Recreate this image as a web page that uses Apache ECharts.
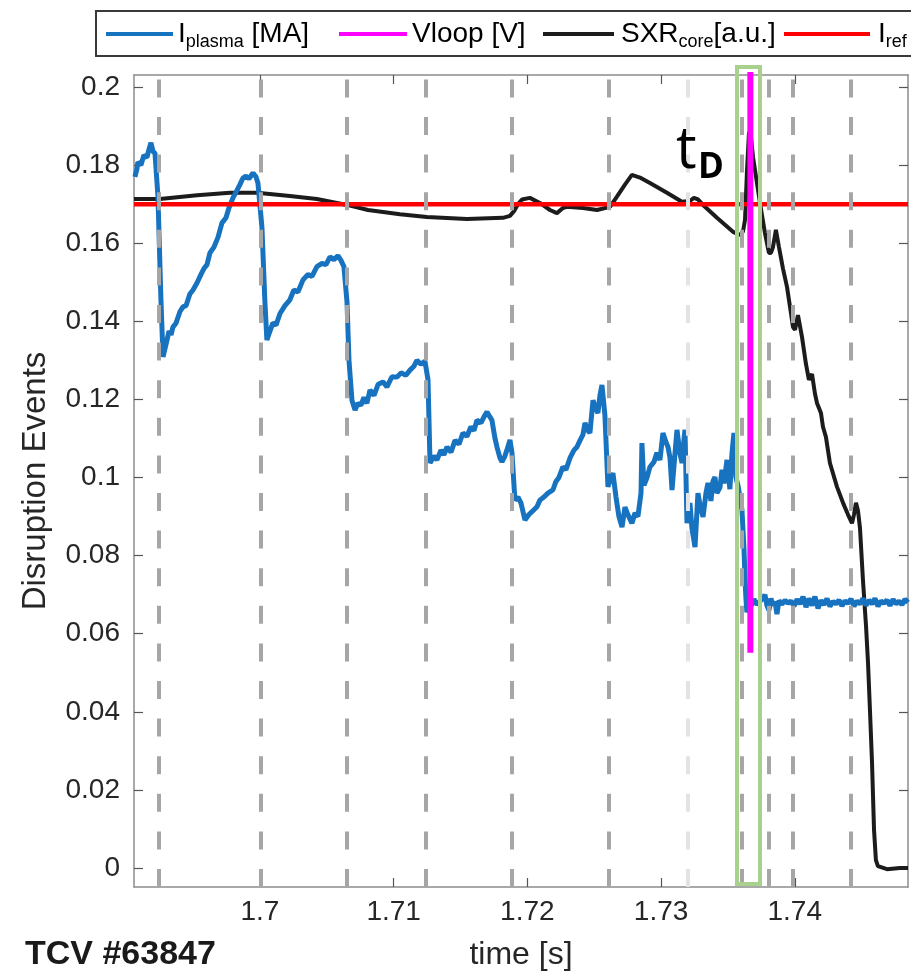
<!DOCTYPE html>
<html>
<head>
<meta charset="utf-8">
<script src="https://cdn.jsdelivr.net/npm/echarts@6/dist/echarts.min.js"></script>
<style>
html, body { margin: 0; padding: 0; background: #fff; }
#container { width: 911px; height: 978px; }
</style>
</head>
<body>
<div id="container"></div>
<script>
// axis ranges and ticks
var xMin = 1.69058, xMax = 1.74847;
var yMin = -0.00487, yMax = 0.20307;
var timeTicks = [1.70, 1.71, 1.72, 1.73, 1.74];
var valueTicks = [0, 0.02, 0.04, 0.06, 0.08, 0.1, 0.12, 0.14, 0.16, 0.18, 0.2];

// I_plasma [MA]
var ipTime = [
  1.69065, 1.69080, 1.69087, 1.69110, 1.69132, 1.69155, 1.69170, 1.69185, 1.69200, 1.69215,
  1.69237, 1.69260, 1.69275, 1.69297, 1.69320, 1.69335, 1.69349, 1.69372, 1.69402, 1.69424,
  1.69447, 1.69476, 1.69499, 1.69529, 1.69559, 1.69581, 1.69604, 1.69626, 1.69656, 1.69686,
  1.69716, 1.69746, 1.69768, 1.69798, 1.69828, 1.69850, 1.69873, 1.69895, 1.69918, 1.69948,
  1.69970, 1.69985, 1.70015, 1.70037, 1.70052, 1.70075, 1.70097, 1.70120, 1.70150, 1.70187,
  1.70224, 1.70254, 1.70284, 1.70322, 1.70359, 1.70389, 1.70426, 1.70464, 1.70494, 1.70524,
  1.70553, 1.70583, 1.70606, 1.70628, 1.70651, 1.70666, 1.70688, 1.70711, 1.70733, 1.70755,
  1.70778, 1.70800, 1.70823, 1.70853, 1.70883, 1.70920, 1.70950, 1.70987, 1.71025, 1.71055,
  1.71092, 1.71122, 1.71152, 1.71174, 1.71204, 1.71234, 1.71257, 1.71272, 1.71301, 1.71324,
  1.71354, 1.71376, 1.71399, 1.71429, 1.71459, 1.71489, 1.71518, 1.71548, 1.71578, 1.71601,
  1.71623, 1.71653, 1.71683, 1.71698, 1.71720, 1.71735, 1.71758, 1.71773, 1.71795, 1.71810,
  1.71832, 1.71847, 1.71870, 1.71885, 1.71907, 1.71930, 1.71952, 1.71982, 1.72012, 1.72042,
  1.72072, 1.72094, 1.72124, 1.72154, 1.72191, 1.72214, 1.72236, 1.72266, 1.72289, 1.72319,
  1.72349, 1.72371, 1.72394, 1.72416, 1.72431, 1.72453, 1.72468, 1.72491, 1.72513, 1.72528,
  1.72543, 1.72558, 1.72580, 1.72603, 1.72625, 1.72640, 1.72663, 1.72685, 1.72708, 1.72730,
  1.72752, 1.72782, 1.72805, 1.72827, 1.72850, 1.72857, 1.72872, 1.72895, 1.72917, 1.72947,
  1.72969, 1.72992, 1.73014, 1.73037, 1.73052, 1.73067, 1.73082, 1.73104, 1.73119, 1.73142,
  1.73157, 1.73172, 1.73179, 1.73194, 1.73216, 1.73231, 1.73254, 1.73276, 1.73291, 1.73314,
  1.73336, 1.73351, 1.73373, 1.73388, 1.73403, 1.73418, 1.73441, 1.73456, 1.73471, 1.73493,
  1.73515, 1.73530, 1.73545, 1.73560, 1.73575, 1.73590, 1.73605, 1.73620, 1.73628, 1.73635,
  1.73642, 1.73657, 1.73672, 1.73695, 1.73717, 1.73740, 1.73762, 1.73777, 1.73792, 1.73807,
  1.73822, 1.73837, 1.73852, 1.73867, 1.73882, 1.73904, 1.73927, 1.73949, 1.73972, 1.73994,
  1.74017, 1.74039, 1.74062, 1.74084, 1.74106, 1.74129, 1.74151, 1.74174, 1.74196, 1.74219,
  1.74241, 1.74263, 1.74286, 1.74308, 1.74331, 1.74353, 1.74376, 1.74398, 1.74421, 1.74443,
  1.74465, 1.74488, 1.74510, 1.74533, 1.74555, 1.74578, 1.74600, 1.74623, 1.74645, 1.74667,
  1.74690, 1.74712, 1.74735, 1.74757, 1.74780, 1.74802, 1.74825, 1.74847
];
var ipValue = [
  0.1770, 0.1790, 0.1808, 0.1800, 0.1825, 0.1820, 0.1840, 0.1857, 0.1835, 0.1830,
  0.1720, 0.1450, 0.1309, 0.1340, 0.1375, 0.1365, 0.1385, 0.1395, 0.1425, 0.1437,
  0.1440, 0.1470, 0.1480, 0.1498, 0.1520, 0.1535, 0.1545, 0.1575, 0.1590, 0.1615,
  0.1652, 0.1665, 0.1690, 0.1716, 0.1735, 0.1750, 0.1767, 0.1772, 0.1765, 0.1780,
  0.1770, 0.1754, 0.1640, 0.1450, 0.1352, 0.1375, 0.1396, 0.1390, 0.1420, 0.1440,
  0.1455, 0.1480, 0.1475, 0.1506, 0.1520, 0.1515, 0.1540, 0.1548, 0.1545, 0.1565,
  0.1558, 0.1568, 0.1556, 0.1540, 0.1450, 0.1300, 0.1198, 0.1173, 0.1190, 0.1185,
  0.1205, 0.1190, 0.1224, 0.1210, 0.1238, 0.1245, 0.1232, 0.1258, 0.1257, 0.1268,
  0.1262, 0.1275, 0.1285, 0.1300, 0.1290, 0.1298, 0.1250, 0.1037, 0.1055, 0.1045,
  0.1070, 0.1058, 0.1078, 0.1065, 0.1095, 0.1085, 0.1114, 0.1105, 0.1130, 0.1120,
  0.1147, 0.1140, 0.1160, 0.1168, 0.1155, 0.1147, 0.1100, 0.1078, 0.1050, 0.1040,
  0.1055, 0.1070, 0.1096, 0.1063, 0.0942, 0.0950, 0.0935, 0.0891, 0.0905, 0.0915,
  0.0925, 0.0942, 0.0950, 0.0960, 0.0968, 0.0990, 0.1000, 0.1027, 0.1020, 0.1050,
  0.1070, 0.1078, 0.1095, 0.1110, 0.1140, 0.1120, 0.1114, 0.1198, 0.1175, 0.1165,
  0.1210, 0.1237, 0.1160, 0.0976, 0.1000, 0.1011, 0.0950, 0.0900, 0.0873, 0.0924,
  0.0905, 0.0883, 0.0909, 0.0900, 0.0960, 0.1088, 0.0980, 0.1000, 0.1027, 0.1040,
  0.1063, 0.1045, 0.1114, 0.1090, 0.1078, 0.1050, 0.0968, 0.1060, 0.1122, 0.1060,
  0.1037, 0.1100, 0.1122, 0.0883, 0.0935, 0.0870, 0.0822, 0.0960, 0.0930, 0.0899,
  0.0960, 0.0986, 0.0940, 0.0990, 0.1001, 0.0960, 0.0975, 0.1020, 0.0985, 0.1045,
  0.0970, 0.1060, 0.1114, 0.1000, 0.0980, 0.0950, 0.0917, 0.0820, 0.0740, 0.0690,
  0.0655, 0.0680, 0.0670, 0.0688, 0.0675, 0.0683, 0.0690, 0.0700, 0.0672, 0.0660,
  0.0690, 0.0672, 0.0682, 0.0650, 0.0685, 0.0675, 0.0686, 0.0678, 0.0684, 0.0670,
  0.0688, 0.0676, 0.0695, 0.0668, 0.0690, 0.0672, 0.0695, 0.0665, 0.0685, 0.0674,
  0.0690, 0.0670, 0.0683, 0.0676, 0.0686, 0.0671, 0.0684, 0.0678, 0.0689, 0.0670,
  0.0684, 0.0676, 0.0690, 0.0672, 0.0686, 0.0676, 0.0690, 0.0670, 0.0684, 0.0678,
  0.0686, 0.0672, 0.0688, 0.0676, 0.0684, 0.0674, 0.0688, 0.0680
];

// SXR core [a.u.]
var sxrTime = [
  1.69058, 1.69252, 1.69529, 1.69776, 1.69978, 1.70224, 1.70426, 1.70651, 1.70808, 1.71047,
  1.71249, 1.71548, 1.71817, 1.71870, 1.71900, 1.71930, 1.71960, 1.72019, 1.72094, 1.72169,
  1.72221, 1.72266, 1.72296, 1.72416, 1.72521, 1.72618, 1.72670, 1.72730, 1.72782, 1.72842,
  1.72917, 1.73044, 1.73156, 1.73216, 1.73246, 1.73276, 1.73314, 1.73418, 1.73538, 1.73590,
  1.73613, 1.73628, 1.73643, 1.73658, 1.73673, 1.73688, 1.73717, 1.73740, 1.73777, 1.73807,
  1.73822, 1.73837, 1.73859, 1.73882, 1.73912, 1.73942, 1.73972, 1.73987, 1.74002, 1.74024,
  1.74054, 1.74084, 1.74106, 1.74129, 1.74151, 1.74166, 1.74196, 1.74211, 1.74233, 1.74263,
  1.74316, 1.74361, 1.74398, 1.74428, 1.74443, 1.74458, 1.74473, 1.74488, 1.74510, 1.74533,
  1.74548, 1.74563, 1.74578, 1.74593, 1.74607, 1.74622, 1.74690, 1.74787, 1.74847
];
var sxrValue = [
  0.1713, 0.1713, 0.1723, 0.1729, 0.1729, 0.1721, 0.1713, 0.1698, 0.1685, 0.1674,
  0.1667, 0.1662, 0.1665, 0.1670, 0.1682, 0.1700, 0.1712, 0.1716, 0.1703, 0.1685,
  0.1677, 0.1690, 0.1693, 0.1690, 0.1685, 0.1693, 0.1719, 0.1750, 0.1775, 0.1768,
  0.1754, 0.1729, 0.1706, 0.1708, 0.1716, 0.1712, 0.1698, 0.1665, 0.1629, 0.1621,
  0.1630, 0.1660, 0.1787, 0.1885, 0.1870, 0.1820, 0.1755, 0.1703, 0.1626, 0.1575,
  0.1575, 0.1590, 0.1634, 0.1590, 0.1535, 0.1488, 0.1420, 0.1385, 0.1378, 0.1416,
  0.1360, 0.1290, 0.1250, 0.1265, 0.1215, 0.1191, 0.1165, 0.1130, 0.1104, 0.1037,
  0.0976, 0.0935, 0.0905, 0.0883, 0.0905, 0.0935, 0.0915, 0.0870, 0.0738, 0.0620,
  0.0525, 0.0400, 0.0269, 0.0097, 0.0020, 0.0005, -0.0003, 0.0000, 0.0000
];

// Vloop [V] (only the visible spike) and I_ref
var vloopTime = [1.73668, 1.73668];
var vloopValue = [0.0551, 0.2500];
var irefTime = [xMin, xMax];
var irefValue = [0.170, 0.170];

// event markers
var eventTimes = [1.69245, 1.70007, 1.70651, 1.71242, 1.71885, 1.72610, 1.73605, 1.73807, 1.73987, 1.74420];
var disruptionTime = 1.73201;
var windowStart = 1.73568, windowEnd = 1.73740;

function pairs(ts, vs) {
  return ts.map(function (t, i) { return [t, vs[i]]; });
}

var dom = document.getElementById('container');
var myChart = echarts.init(dom);

var axisFont = 'Liberation Sans, Arial, sans-serif';
var dashStyle = [18, 19.6];

var option = {
  animation: false,
  backgroundColor: '#fff',
  grid: { left: 134, right: 3, top: 75, bottom: 91, outerBoundsMode: 'none' },
  xAxis: [{
    type: 'value', min: xMin, max: xMax, position: 'bottom',
    name: 'time [s]', nameLocation: 'middle', nameGap: 52,
    nameTextStyle: { fontFamily: axisFont, fontSize: 32, color: '#262626' },
    axisLine: { onZero: false, lineStyle: { color: '#8c8c8c', width: 1.5 } },
    axisTick: { inside: true, length: 9, customValues: timeTicks, lineStyle: { color: '#555', width: 1.2 } },
    axisLabel: {
      customValues: timeTicks, margin: 11, fontFamily: axisFont, fontSize: 28, color: '#262626',
      formatter: function (v) { return String(parseFloat(v.toFixed(2))); }
    },
    splitLine: { show: false }
  }, {
    type: 'value', min: xMin, max: xMax, position: 'top',
    axisLine: { onZero: false, lineStyle: { color: '#8c8c8c', width: 1.5 } },
    axisTick: { inside: true, length: 9, customValues: timeTicks, lineStyle: { color: '#555', width: 1.2 } },
    axisLabel: { show: false },
    splitLine: { show: false }
  }],
  yAxis: [{
    type: 'value', min: yMin, max: yMax, position: 'left',
    name: 'Disruption Events', nameLocation: 'middle', nameGap: 82,
    nameTextStyle: { fontFamily: axisFont, fontSize: 33, color: '#262626' },
    axisLine: { show: true, onZero: false, lineStyle: { color: '#8c8c8c', width: 1.5 } },
    axisTick: { show: true, inside: true, length: 9, customValues: valueTicks, lineStyle: { color: '#555', width: 1.2 } },
    axisLabel: {
      customValues: valueTicks, margin: 14, fontFamily: axisFont, fontSize: 28, color: '#262626',
      formatter: function (v) { return String(parseFloat(v.toFixed(2))); }
    },
    splitLine: { show: false }
  }, {
    type: 'value', min: yMin, max: yMax, position: 'right',
    axisLine: { show: true, onZero: false, lineStyle: { color: '#8c8c8c', width: 1.5 } },
    axisTick: { show: true, inside: true, length: 9, customValues: valueTicks, lineStyle: { color: '#555', width: 1.2 } },
    axisLabel: { show: false },
    splitLine: { show: false }
  }],
  series: [{
    name: 'SXR', type: 'line', z: 2, showSymbol: false, clip: true,
    lineStyle: { color: '#1c1c1c', width: 4 },
    data: pairs(sxrTime, sxrValue)
  }, {
    name: 'Iplasma', type: 'line', z: 3, showSymbol: false, clip: true,
    lineStyle: { color: '#1772c0', width: 5 },
    data: pairs(ipTime, ipValue)
  }, {
    name: 'Iref', type: 'line', z: 4, showSymbol: false, clip: true,
    lineStyle: { color: '#ff0000', width: 4.5 },
    data: pairs(irefTime, irefValue)
  }, {
    name: 'Vloop', type: 'line', z: 5, showSymbol: false, clip: true,
    lineStyle: { color: '#ff00ff', width: 6 },
    data: pairs(vloopTime, vloopValue),
    markLine: {
      silent: true, symbol: 'none', label: { show: false }, animation: false, precision: 6,
      lineStyle: { color: '#a6a6a6', width: 4, type: dashStyle },
      data: eventTimes.map(function (t) { return { xAxis: t }; }).concat([{
        xAxis: disruptionTime, lineStyle: { color: '#e3e3e3', width: 4, type: dashStyle }
      }])
    }
  }]
};

myChart.setOption(option, true);

// annotations placed through the chart's own scales
var bx0 = myChart.convertToPixel({ xAxisIndex: 0 }, windowStart);
var bx1 = myChart.convertToPixel({ xAxisIndex: 0 }, windowEnd);
var byTop = myChart.convertToPixel({ yAxisIndex: 0 }, 0.2051);
var byBot = myChart.convertToPixel({ yAxisIndex: 0 }, -0.0041);

var legendRich = {
  a: { fontFamily: axisFont, fontSize: 28, lineHeight: 34, color: '#262626' },
  s: { fontFamily: axisFont, fontSize: 18, lineHeight: 20, verticalAlign: 'bottom', color: '#262626' }
};
var legendItems = [
  { color: '#1772c0', x1: 106, x2: 173, tx: 178, text: '{a|I}{s|plasma}{a| [MA]}' },
  { color: '#ff00ff', x1: 339, x2: 407, tx: 412, text: '{a|Vloop [V]}' },
  { color: '#1c1c1c', x1: 543, x2: 614, tx: 621, text: '{a|SXR}{s|core}{a|[a.u.]}' },
  { color: '#ff0000', x1: 784, x2: 870, tx: 878, text: '{a|I}{s|ref}' }
];

var graphics = [{
  type: 'rect', z: 100,
  shape: { x: 96, y: 11, width: 900, height: 45 },
  style: { fill: '#fff', stroke: '#3a3a3a', lineWidth: 2 }
}];
legendItems.forEach(function (it) {
  graphics.push({
    type: 'line', z: 101,
    shape: { x1: it.x1, y1: 34, x2: it.x2, y2: 34 },
    style: { stroke: it.color, lineWidth: 4 }
  });
  graphics.push({
    type: 'text', z: 101,
    style: { x: it.tx, y: 34, text: it.text, rich: legendRich, verticalAlign: 'middle', align: 'left' }
  });
});
graphics.push({
  type: 'rect', z: 50,
  shape: { x: bx0, y: byTop, width: bx1 - bx0, height: byBot - byTop },
  style: { fill: 'none', stroke: '#a9d18e', lineWidth: 4 }
});
graphics.push({
  type: 'text', z: 60,
  style: { x: 676, y: 122, text: 't', font: '58px "Open Sans", sans-serif', fill: '#000', verticalAlign: 'top' }
});
graphics.push({
  type: 'text', z: 60,
  style: { x: 698, y: 151, text: 'D', font: 'bold 35px "Open Sans", sans-serif', fill: '#000', verticalAlign: 'top' }
});
graphics.push({
  type: 'text', z: 60,
  style: { x: 25, y: 955, text: 'TCV #63847', font: 'bold 34px "Liberation Sans", Arial, sans-serif', fill: '#1a1a1a', verticalAlign: 'middle' }
});

myChart.setOption({ graphic: graphics });
</script>
</body>
</html>
